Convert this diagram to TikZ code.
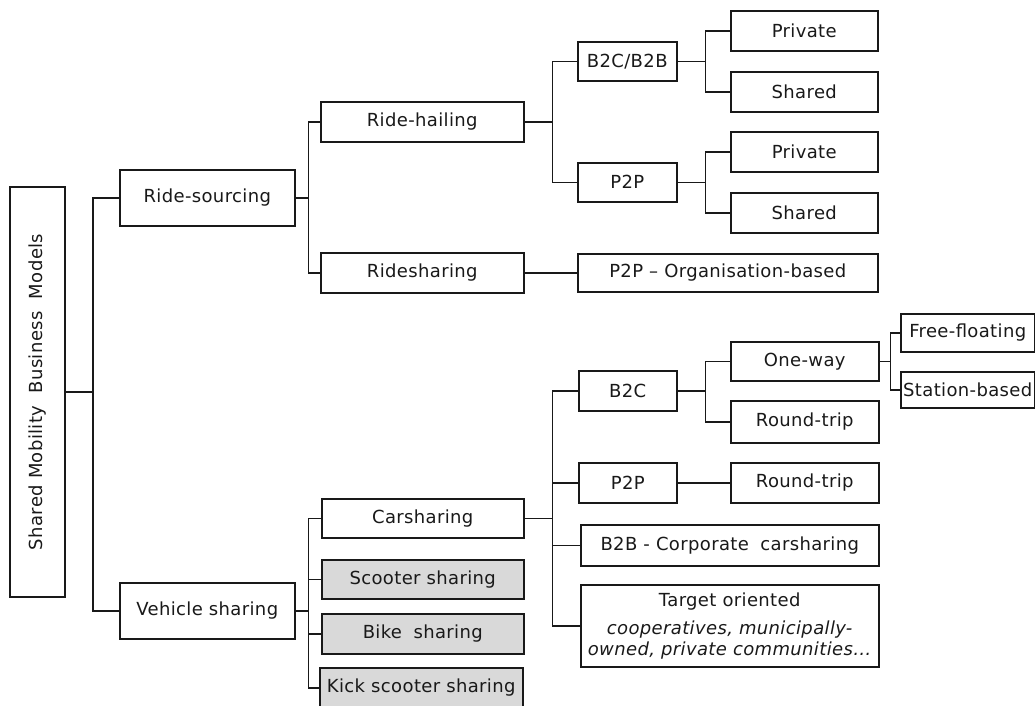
\documentclass[tikz,border=0pt]{standalone}
\usepackage{fontspec}
\setmainfont{DejaVu Sans}[LetterSpace=2]
\begin{document}
\begin{tikzpicture}[x=1pt,y=-1pt,
  box/.style={draw=black!90, line width=1.5pt, inner sep=0pt, anchor=north west,
    align=center, text=black!90, font=\fontsize{18}{21}\selectfont},
  gbox/.style={box, fill=black!15},
  link/.style={draw=black!90, line width=1.5pt}]
\useasboundingbox (0,0) rectangle (1035,705);
% root
\node[box, rotate=90, minimum width=410pt, minimum height=55pt, anchor=center] (root) at (37.5,392) {Shared Mobility\hspace{0.35em} Business\hspace{0.35em} Models};
% level 1
\node[box, minimum width=175pt, minimum height=56pt] (rs) at (119,169) {Ride-sourcing};
\node[box, minimum width=175pt, minimum height=56pt] (vs) at (119,582) {Vehicle sharing};
% ride-sourcing branch
\node[box, minimum width=203pt, minimum height=40pt] (rh) at (320,101) {Ride-hailing};
\node[box, minimum width=203pt, minimum height=40pt] (rd) at (320,252) {Ridesharing};
\node[box, minimum width=99pt, minimum height=39pt] (b2cb) at (577,41) {B2C/B2B};
\node[box, minimum width=99pt, minimum height=39pt] (p2pa) at (577,162) {P2P};
\node[box, minimum width=147pt, minimum height=40pt] (pr1) at (730,10) {Private};
\node[box, minimum width=147pt, minimum height=40pt] (sh1) at (730,71) {Shared};
\node[box, minimum width=147pt, minimum height=40pt] (pr2) at (730,131) {Private};
\node[box, minimum width=147pt, minimum height=40pt] (sh2) at (730,192) {Shared};
\node[box, minimum width=300pt, minimum height=38pt] (p2po) at (577,253) {P2P – Organisation-based};
% vehicle sharing branch
\node[box, minimum width=202pt, minimum height=39pt] (cs) at (321,498) {Carsharing};
\node[gbox, minimum width=202pt, minimum height=39pt] (sc) at (321,559) {Scooter sharing};
\node[gbox, minimum width=202pt, minimum height=40pt] (bk) at (321,613) {Bike\hspace{0.3em} sharing};
\node[gbox, minimum width=203pt, minimum height=40pt] (ks) at (319,667) {Kick scooter sharing};
\node[box, minimum width=98pt, minimum height=40pt] (b2c) at (578,370) {B2C};
\node[box, minimum width=98pt, minimum height=40pt] (p2pb) at (578,462) {P2P};
\node[box, minimum width=298pt, minimum height=41pt] (b2b) at (580,524) {B2B - Corporate\hspace{0.3em} carsharing};
\node[box, minimum width=298pt, minimum height=82pt] (tgt) at (580,584) {Target oriented\\[7pt]\textit{cooperatives, municipally-}\\\textit{owned, private communities…}};
\node[box, minimum width=148pt, minimum height=39pt] (ow) at (730,341) {One-way};
\node[box, minimum width=148pt, minimum height=42pt] (rt1) at (730,400) {Round-trip};
\node[box, minimum width=148pt, minimum height=40pt] (rt2) at (730,462) {Round-trip};
\node[box, minimum width=134pt, minimum height=38pt] (ff) at (900,313) {Free-floating};
\node[box, minimum width=134pt, minimum height=36pt] (sb) at (900,371) {Station-based};
% connectors
\draw[link] (root.south) -- ++(27,0) coordinate (j0);
\draw[link] (j0) |- (rs.west);
\draw[link] (j0) |- (vs.west);
\draw[link] (rs.east) -- ++(13,0) coordinate (j1);
\draw[link] (j1) |- (rh.west);
\draw[link] (j1) |- (rd.west);
\draw[link] (rh.east) -- ++(28,0) coordinate (j2);
\draw[link] (j2) |- (b2cb.west);
\draw[link] (j2) |- (p2pa.west);
\draw[link] (b2cb.east) -- ++(28,0) coordinate (j3);
\draw[link] (j3) |- (pr1.west);
\draw[link] (j3) |- (sh1.west);
\draw[link] (p2pa.east) -- ++(28,0) coordinate (j4);
\draw[link] (j4) |- (pr2.west);
\draw[link] (j4) |- (sh2.west);
\draw[link] (rd.east) -- (p2po.west);
\draw[link] (vs.east) -- ++(13,0) coordinate (j5);
\draw[link] (j5) |- (cs.west);
\draw[link] (j5) |- (sc.west);
\draw[link] (j5) |- (bk.west);
\draw[link] (j5) |- (ks.west);
\draw[link] (cs.east) -- ++(28,0) coordinate (j6);
\draw[link] (j6) |- (b2c.west);
\draw[link] (j6) |- (p2pb.west);
\draw[link] (j6) |- (b2b.west);
\draw[link] (j6) |- (tgt.west);
\draw[link] (b2c.east) -- ++(28,0) coordinate (j7);
\draw[link] (j7) |- (ow.west);
\draw[link] (j7) |- (rt1.west);
\draw[link] (p2pb.east) -- (rt2.west);
\draw[link] (ow.east) -- ++(11,0) coordinate (j8);
\draw[link] (j8) |- (ff.west);
\draw[link] (j8) |- (sb.west);
\end{tikzpicture}
\end{document}
